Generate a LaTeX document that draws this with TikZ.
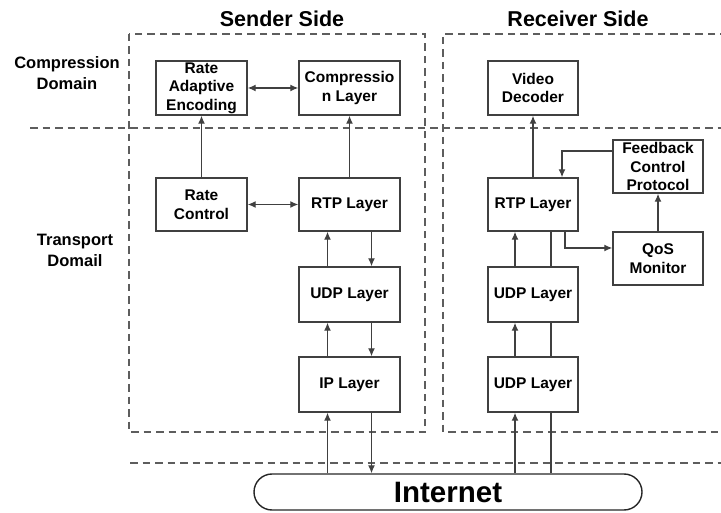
\documentclass[tikz,border=0pt]{standalone}
\usepackage{fontspec}
\setmainfont{Liberation Sans}
\usetikzlibrary{arrows.meta}
\definecolor{linegray}{HTML}{404040}
\tikzset{
  layerbox/.style={draw=linegray, line width=1.4pt, align=center, inner sep=1pt,
    font=\bfseries\fontsize{15.5}{18.5}\selectfont, text=black},
  zone/.style={draw=linegray!85, line width=1.3pt, dash pattern=on 7.5pt off 5pt},
  arr/.style={draw=linegray, line width=1.3pt, -{Latex[length=8pt,width=7pt]}},
  darr/.style={draw=linegray, line width=1.3pt, {Latex[length=8pt,width=7pt]}-{Latex[length=8pt,width=7pt]}},
  plain/.style={draw=linegray, line width=1.3pt},
  sidetitle/.style={font=\bfseries\fontsize{21.5}{24}\selectfont, text=black},
  domainlabel/.style={font=\bfseries\fontsize{16.5}{21}\selectfont, align=center, text=black},
}
\begin{document}
\begin{tikzpicture}[x=1pt, y=-1pt]
\useasboundingbox (0,0) rectangle (721,513);

% side regions and domain separators
\draw[zone] (129,34) rectangle (425,432);
\draw[zone] (740,34) -- (443,34) -- (443,432) -- (740,432);
\draw[zone] (30,128) -- (721,128);
\draw[zone] (130,463) -- (721,463);

% headings
\node[sidetitle] (sendT) at (282,19) {Sender Side};
\node[sidetitle] (recvT) at (578,19) {Receiver Side};
\node[domainlabel] (compD) at (67,73) {Compression\\Domain};
\node[domainlabel] (tranD) at (75,250) {Transport\\Domail};

% sender side
\node[layerbox, minimum width=91, minimum height=54] (rae) at (201.5,88) {Rate\\Adaptive\\Encoding};
\node[layerbox, minimum width=101, minimum height=54] (comp) at (349.5,88) {Compressio\\n Layer};
\node[layerbox, minimum width=91, minimum height=53] (rc) at (201.5,204.5) {Rate\\Control};
\node[layerbox, minimum width=101, minimum height=53] (rtps) at (349.5,204.5) {RTP Layer};
\node[layerbox, minimum width=101, minimum height=55] (udps) at (349.5,294.5) {UDP Layer};
\node[layerbox, minimum width=101, minimum height=55] (ips) at (349.5,384.5) {IP Layer};

% receiver side
\node[layerbox, minimum width=90, minimum height=54] (vd) at (533,88) {Video\\Decoder};
\node[layerbox, minimum width=90, minimum height=53] (rtpr) at (533,204.5) {RTP Layer};
\node[layerbox, minimum width=90, minimum height=53] (fcp) at (658,166.5) {Feedback\\Control\\Protocol};
\node[layerbox, minimum width=90, minimum height=53] (qos) at (658,258.5) {QoS\\Monitor};
\node[layerbox, minimum width=90, minimum height=55] (udpr1) at (533,294.5) {UDP Layer};
\node[layerbox, minimum width=90, minimum height=55] (udpr2) at (533,384.5) {UDP Layer};

% network
\node[draw=black!85, line width=1.4pt, rounded corners=18pt, minimum width=388, minimum height=36,
  font=\bfseries\fontsize{29.5}{32}\selectfont, text=black] (net) at (448,492) {Internet};

% sender connections
\draw[darr] (rae) -- (comp);
\draw[darr] (rc) -- (rtps);
\draw[arr] (rc) -- (rae);
\draw[arr] (rtps) -- (comp);
\draw[arr] ([xshift=-22pt]udps.north) -- ([xshift=-22pt]rtps.south);
\draw[arr] ([xshift=22pt]rtps.south) -- ([xshift=22pt]udps.north);
\draw[arr] ([xshift=-22pt]ips.north) -- ([xshift=-22pt]udps.south);
\draw[arr] ([xshift=22pt]udps.south) -- ([xshift=22pt]ips.north);
\draw[arr] ([xshift=-22pt]ips.south |- net.north) -- ([xshift=-22pt]ips.south);
\draw[arr] ([xshift=22pt]ips.south) -- ([xshift=22pt]ips.south |- net.north);

% receiver connections
\draw[arr] (rtpr) -- (vd);
\draw[arr] ([yshift=15.5pt]fcp.west) -| ([xshift=29pt]rtpr.north);
\draw[arr] ([xshift=32pt]rtpr.south) |- ([yshift=10.5pt]qos.west);
\draw[arr] (qos) -- (fcp);
\draw[arr] ([xshift=-18pt]udpr1.north) -- ([xshift=-18pt]rtpr.south);
\draw[arr] ([xshift=-18pt]udpr2.north) -- ([xshift=-18pt]udpr1.south);
\draw[arr] ([xshift=-18pt]udpr2.south |- net.north) -- ([xshift=-18pt]udpr2.south);
\draw[plain] ([xshift=18pt]udpr1.north) -- ([xshift=18pt]rtpr.south);
\draw[plain] ([xshift=18pt]udpr2.north) -- ([xshift=18pt]udpr1.south);
\draw[plain] ([xshift=18pt]udpr2.south |- net.north) -- ([xshift=18pt]udpr2.south);
\end{tikzpicture}
\end{document}
